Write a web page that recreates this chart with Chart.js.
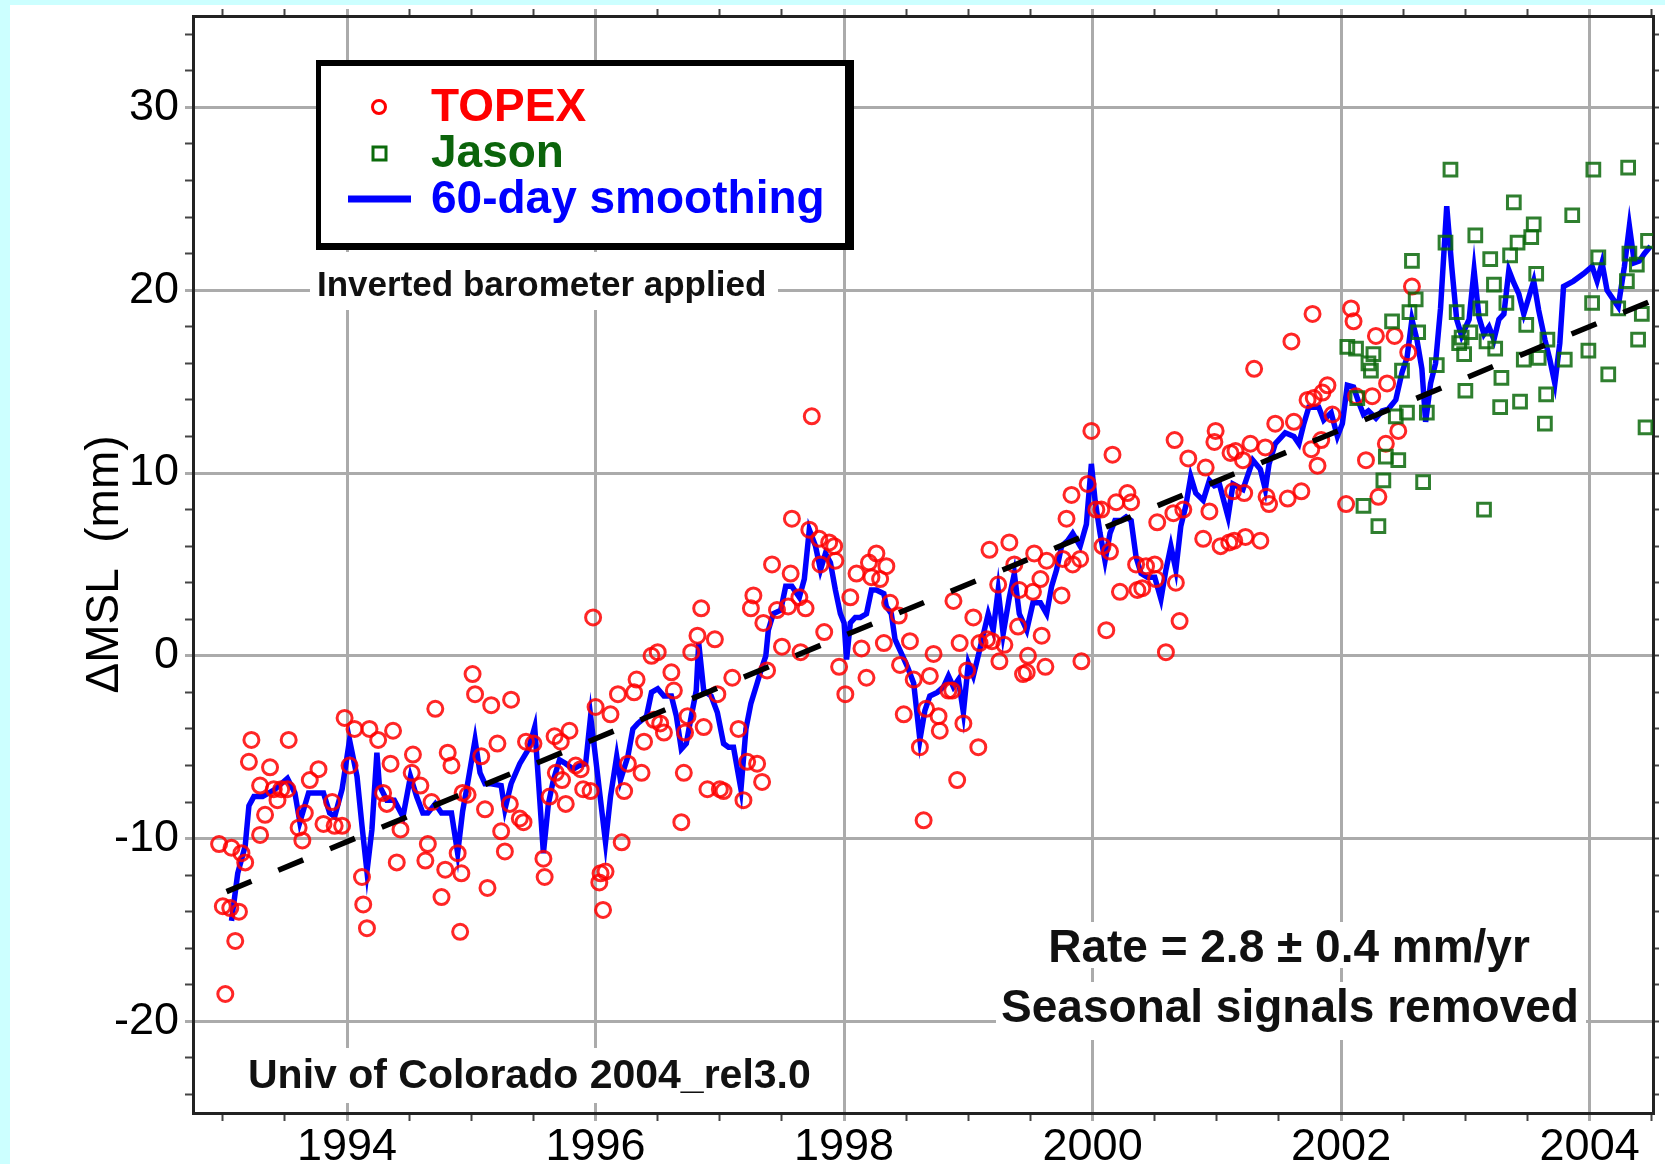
<!DOCTYPE html>
<html>
<head>
<meta charset="utf-8">
<title>Mean sea level change, TOPEX and Jason</title>
<script src="https://cdn.jsdelivr.net/npm/chart.js@4.4.1/dist/chart.umd.min.js"></script>
<style>
  html, body { margin: 0; padding: 0; background: #ccffff; }
  #wrap { width: 1665px; height: 1164px; position: relative; }
</style>
</head>
<body>
<div id="wrap"><canvas id="msl"></canvas></div>
<script>
// TOPEX cycle averages (decimal year, mm)
const topexYear = [
  1992.97, 1993.00, 1993.02, 1993.06, 1993.07, 1993.10, 1993.13, 1993.15, 1993.18, 1993.21,
  1993.23, 1993.30, 1993.30, 1993.34, 1993.38, 1993.41, 1993.44, 1993.47, 1993.52, 1993.53,
  1993.61, 1993.64, 1993.66, 1993.70, 1993.77, 1993.81, 1993.88, 1993.90, 1993.96, 1993.98,
  1994.02, 1994.06, 1994.12, 1994.13, 1994.16, 1994.18, 1994.25, 1994.29, 1994.32, 1994.35,
  1994.37, 1994.40, 1994.43, 1994.52, 1994.53, 1994.59, 1994.63, 1994.65, 1994.68, 1994.71,
  1994.76, 1994.79, 1994.81, 1994.84, 1994.89, 1994.91, 1994.92, 1994.93, 1994.97, 1995.01,
  1995.03, 1995.08, 1995.11, 1995.13, 1995.16, 1995.21, 1995.24, 1995.27, 1995.31, 1995.32,
  1995.39, 1995.42, 1995.44, 1995.50, 1995.58, 1995.59, 1995.63, 1995.67, 1995.68, 1995.72,
  1995.73, 1995.76, 1995.79, 1995.84, 1995.88, 1995.90, 1995.96, 1995.98, 1996.00, 1996.03,
  1996.04, 1996.06, 1996.08, 1996.12, 1996.18, 1996.21, 1996.23, 1996.26, 1996.31, 1996.33,
  1996.37, 1996.39, 1996.45, 1996.47, 1996.50, 1996.52, 1996.55, 1996.61, 1996.63, 1996.69,
  1996.71, 1996.72, 1996.74, 1996.77, 1996.82, 1996.85, 1996.87, 1996.90, 1996.96, 1996.98,
  1997.00, 1997.03, 1997.10, 1997.15, 1997.19, 1997.22, 1997.25, 1997.27, 1997.30, 1997.34,
  1997.35, 1997.38, 1997.42, 1997.46, 1997.50, 1997.55, 1997.57, 1997.58, 1997.64, 1997.65,
  1997.69, 1997.72, 1997.74, 1997.80, 1997.81, 1997.84, 1997.88, 1997.92, 1997.93, 1997.96,
  1998.01, 1998.05, 1998.10, 1998.14, 1998.18, 1998.20, 1998.22, 1998.26, 1998.29, 1998.32,
  1998.34, 1998.37, 1998.44, 1998.45, 1998.48, 1998.53, 1998.56, 1998.61, 1998.64, 1998.66,
  1998.69, 1998.72, 1998.76, 1998.77, 1998.84, 1998.87, 1998.88, 1998.91, 1998.93, 1998.96,
  1998.99, 1999.04, 1999.08, 1999.09, 1999.15, 1999.17, 1999.19, 1999.24, 1999.25, 1999.29,
  1999.33, 1999.37, 1999.40, 1999.41, 1999.44, 1999.47, 1999.48, 1999.52, 1999.53, 1999.58,
  1999.59, 1999.62, 1999.63, 1999.75, 1999.76, 1999.79, 1999.83, 1999.84, 1999.90, 1999.91,
  1999.96, 1999.99, 2000.03, 2000.07, 2000.08, 2000.11, 2000.14, 2000.16, 2000.19, 2000.22,
  2000.28, 2000.31, 2000.35, 2000.36, 2000.40, 2000.43, 2000.50, 2000.51, 2000.52, 2000.59,
  2000.65, 2000.66, 2000.67, 2000.70, 2000.73, 2000.77, 2000.89, 2000.91, 2000.94, 2000.98,
  2000.99, 2001.03, 2001.10, 2001.11, 2001.13, 2001.14, 2001.15, 2001.21, 2001.22, 2001.23,
  2001.27, 2001.30, 2001.35, 2001.39, 2001.40, 2001.42, 2001.47, 2001.57, 2001.60, 2001.62,
  2001.68, 2001.73, 2001.76, 2001.77, 2001.78, 2001.81, 2001.84, 2001.85, 2001.89, 2001.93,
  2002.04, 2002.08, 2002.10, 2002.12, 2002.20, 2002.25, 2002.28, 2002.30, 2002.36, 2002.37,
  2002.43, 2002.46, 2002.54, 2002.57
];
const topexMsl = [
  -10.3, -13.7, -18.5, -13.8, -10.5, -15.6, -14.0, -10.8, -11.3, -5.8,
  -4.6, -7.1, -9.8, -8.7, -6.1, -7.3, -7.9, -7.3, -7.3, -4.6,
  -9.4, -10.1, -8.6, -6.8, -6.2, -9.2, -8.0, -9.3, -9.3, -3.4,
  -6.0, -4.0, -12.1, -13.6, -14.9, -4.0, -4.6, -7.5, -8.1, -5.9,
  -4.1, -11.3, -9.5, -6.4, -5.4, -7.1, -11.2, -10.3, -8.0, -2.9,
  -13.2, -11.7, -5.3, -6.0, -10.8, -15.1, -11.9, -7.5, -7.6, -1.0,
  -2.1, -5.5, -8.4, -12.7, -2.7, -4.8, -9.6, -10.7, -8.1, -2.4,
  -8.9, -9.1, -4.7, -4.8, -11.1, -12.1, -7.7, -4.4, -6.4, -4.7,
  -6.8, -8.1, -4.1, -6.0, -6.2, -7.3, -7.4, 2.1, -2.8, -12.4,
  -11.9, -13.9, -11.8, -3.2, -2.1, -10.2, -7.4, -5.9, -2.0, -1.3,
  -6.4, -4.7, 0.0, -3.5, 0.2, -3.7, -4.2, -0.9, -1.9, -9.1,
  -6.4, -4.2, -3.3, 0.2, 1.1, 2.6, -3.9, -7.3, 0.9, -2.1,
  -7.3, -7.4, -1.2, -4.0, -7.9, -5.8, 2.6, 3.3, -5.9, -6.9,
  1.8, -0.8, 5.0, 2.5, 0.5, 2.7, 4.5, 7.5, 3.2, 0.2,
  2.6, 6.9, 13.1, 6.4, 5.0, 1.3, 6.2, 6.0, 5.2, -0.6,
  -2.1, 3.2, 4.5, 0.4, -1.2, 5.1, 4.3, 5.6, 4.2, 0.7,
  4.9, 2.9, 2.2, -0.5, -3.2, 0.8, -1.3, -5.0, -9.0, -2.9,
  -1.1, 0.1, -3.3, -4.1, -1.9, -1.9, 3.0, -6.8, 0.7, -3.7,
  -0.8, 2.1, -5.0, 0.7, 0.9, 5.8, 0.8, 3.9, -0.3, 0.6,
  6.2, 5.0, 1.6, 3.6, -1.0, -0.9, 0.0, 3.5, 5.6, 4.2,
  1.1, -0.6, 5.2, 3.3, 5.3, 7.5, 8.8, 5.0, 5.3, -0.3,
  9.4, 12.3, 8.0, 8.0, 6.0, 1.4, 5.7, 11.0, 8.4, 3.5,
  8.9, 8.4, 5.0, 3.6, 3.7, 4.9, 5.0, 4.2, 7.3, 0.2,
  7.8, 11.8, 4.0, 1.9, 8.0, 10.8, 6.4, 10.3, 7.9, 11.7,
  12.3, 6.0, 6.2, 11.1, 9.0, 6.3, 11.2, 10.7, 8.9, 6.5,
  11.6, 15.7, 6.3, 11.4, 8.7, 8.3, 12.7, 8.6, 17.2, 12.8,
  9.0, 14.0, 11.3, 18.7, 14.1, 10.4, 11.8, 14.4, 14.8, 13.2,
  8.3, 19.0, 18.3, 14.2, 10.7, 14.2, 17.5, 8.7, 11.6, 14.9,
  17.5, 12.3, 16.6, 20.2
];

// Jason-1 cycle averages
const jasonYear = [
  2002.05, 2002.12, 2002.13, 2002.18, 2002.22, 2002.24, 2002.26, 2002.30, 2002.34, 2002.36,
  2002.41, 2002.44, 2002.46, 2002.49, 2002.53, 2002.55, 2002.57, 2002.60, 2002.62, 2002.66,
  2002.69, 2002.77, 2002.84, 2002.88, 2002.93, 2002.95, 2002.97, 2002.99, 2003.00, 2003.04,
  2003.08, 2003.12, 2003.15, 2003.17, 2003.20, 2003.23, 2003.24, 2003.28, 2003.29, 2003.33,
  2003.36, 2003.39, 2003.42, 2003.44, 2003.47, 2003.49, 2003.53, 2003.55, 2003.57, 2003.59,
  2003.64, 2003.65, 2003.66, 2003.80, 2003.86, 2003.99, 2004.02, 2004.03, 2004.07, 2004.15,
  2004.23, 2004.30, 2004.31, 2004.32, 2004.38, 2004.39, 2004.42, 2004.45, 2004.47
];
const jasonMsl = [
  16.9, 16.8, 14.1, 8.2, 16.0, 15.6, 16.5, 7.1, 9.6, 10.9,
  18.3, 13.1, 10.7, 15.6, 13.3, 18.8, 21.6, 19.5, 17.7, 9.5,
  13.3, 15.9, 22.6, 26.6, 18.8, 17.1, 17.4, 16.5, 14.5, 17.7,
  23.0, 19.0, 8.0, 17.2, 21.7, 20.3, 16.8, 13.6, 15.2, 19.3,
  21.9, 24.8, 22.6, 13.9, 16.2, 18.1, 22.9, 23.6, 20.9, 16.3,
  12.7, 14.3, 17.3, 16.2, 24.1, 16.7, 19.3, 26.6, 21.8, 15.4,
  19.0, 20.5, 26.7, 22.0, 21.4, 17.3, 18.7, 12.5, 22.7
];

// 60-day smoothed series
const smoothYear = [
  1993.07, 1993.12, 1993.18, 1993.21, 1993.25, 1993.32, 1993.42, 1993.52, 1993.58, 1993.62,
  1993.69, 1993.74, 1993.81, 1993.86, 1993.90, 1993.96, 1994.02, 1994.08, 1994.12, 1994.16,
  1994.20, 1994.24, 1994.26, 1994.32, 1994.38, 1994.45, 1994.51, 1994.56, 1994.61, 1994.65,
  1994.71, 1994.76, 1994.84, 1994.89, 1994.93, 1994.97, 1995.03, 1995.07, 1995.11, 1995.16,
  1995.24, 1995.27, 1995.32, 1995.39, 1995.46, 1995.51, 1995.54, 1995.58, 1995.62, 1995.66,
  1995.71, 1995.76, 1995.82, 1995.87, 1995.92, 1995.96, 1995.99, 1996.04, 1996.08, 1996.12,
  1996.17, 1996.20, 1996.26, 1996.30, 1996.34, 1996.41, 1996.45, 1996.50, 1996.55, 1996.61,
  1996.65, 1996.69, 1996.73, 1996.77, 1996.81, 1996.83, 1996.87, 1996.93, 1996.98, 1997.03,
  1997.07, 1997.11, 1997.17, 1997.21, 1997.25, 1997.30, 1997.34, 1997.37, 1997.39, 1997.43,
  1997.49, 1997.53, 1997.58, 1997.64, 1997.68, 1997.72, 1997.77, 1997.81, 1997.85, 1997.89,
  1997.93, 1997.97, 1998.00, 1998.02, 1998.05, 1998.09, 1998.13, 1998.18, 1998.22, 1998.26,
  1998.32, 1998.34, 1998.38, 1998.41, 1998.45, 1998.51, 1998.56, 1998.61, 1998.65, 1998.69,
  1998.75, 1998.80, 1998.84, 1998.88, 1998.92, 1998.96, 1999.00, 1999.04, 1999.09, 1999.16,
  1999.20, 1999.24, 1999.28, 1999.33, 1999.37, 1999.41, 1999.47, 1999.52, 1999.58, 1999.63,
  1999.67, 1999.71, 1999.75, 1999.80, 1999.84, 1999.90, 1999.95, 1999.99, 2000.02, 2000.06,
  2000.10, 2000.14, 2000.18, 2000.23, 2000.27, 2000.31, 2000.35, 2000.39, 2000.44, 2000.50,
  2000.55, 2000.59, 2000.63, 2000.67, 2000.71, 2000.75, 2000.79, 2000.83, 2000.89, 2000.94,
  2000.98, 2001.02, 2001.09, 2001.13, 2001.21, 2001.29, 2001.35, 2001.39, 2001.42, 2001.47,
  2001.55, 2001.62, 2001.66, 2001.70, 2001.74, 2001.82, 2001.86, 2001.92, 2001.97, 2002.01,
  2002.05, 2002.10, 2002.14, 2002.18, 2002.22, 2002.28, 2002.33, 2002.38, 2002.44, 2002.49,
  2002.53, 2002.57, 2002.61, 2002.65, 2002.68, 2002.72, 2002.76, 2002.80, 2002.85, 2002.89,
  2002.93, 2002.97, 2003.03, 2003.07, 2003.11, 2003.15, 2003.19, 2003.23, 2003.27, 2003.31,
  2003.35, 2003.39, 2003.43, 2003.47, 2003.51, 2003.55, 2003.59, 2003.64, 2003.68, 2003.72,
  2003.76, 2003.79, 2003.87, 2003.95, 2004.02, 2004.06, 2004.10, 2004.14, 2004.19, 2004.23,
  2004.28, 2004.32, 2004.36, 2004.40, 2004.44, 2004.49
];
const smoothMsl = [
  -14.5, -11.9, -10.4, -8.2, -7.7, -7.7, -7.3, -6.7, -7.5, -9.1,
  -7.5, -7.5, -7.5, -8.6, -8.8, -7.3, -4.6, -6.6, -9.3, -11.8,
  -9.5, -5.3, -7.1, -7.9, -7.9, -8.8, -6.6, -7.7, -8.6, -8.6,
  -8.1, -8.6, -8.6, -10.8, -8.5, -7.0, -4.6, -6.4, -7.0, -7.0,
  -7.1, -8.4, -7.0, -5.9, -5.1, -3.9, -6.8, -10.8, -8.1, -6.8,
  -5.7, -5.9, -6.2, -6.0, -5.9, -3.3, -5.0, -7.9, -10.2, -7.7,
  -5.5, -6.8, -5.5, -4.0, -3.7, -3.3, -2.0, -1.8, -2.2, -2.2,
  -3.3, -5.1, -4.8, -3.3, -1.9, 0.7, -1.9, -2.2, -3.1, -4.8,
  -5.0, -5.0, -7.3, -4.0, -2.6, -1.5, -0.6, 0.0, 1.4, 2.3,
  2.5, 3.8, 3.8, 3.2, 4.2, 6.9, 6.0, 4.7, 5.6, 5.1,
  3.6, 2.3, 1.8, -0.2, 1.8, 2.1, 2.1, 2.3, 3.6, 3.6,
  3.4, 2.7, 2.3, 0.9, 0.3, -0.6, -1.5, -4.6, -3.0, -2.2,
  -2.0, -1.7, -1.1, -1.7, -1.3, -3.1, -0.4, -1.1, 0.3, 2.3,
  1.4, 3.6, 1.2, 3.2, 4.5, 2.3, 1.4, 2.9, 2.9, 2.3,
  3.8, 4.7, 6.0, 6.3, 6.7, 6.0, 7.2, 10.5, 8.5, 6.7,
  5.2, 6.7, 7.4, 7.4, 7.6, 7.4, 5.4, 4.5, 4.3, 4.3,
  3.1, 4.7, 6.0, 4.7, 7.1, 8.2, 9.8, 8.9, 8.5, 9.6,
  9.3, 9.4, 7.6, 9.4, 9.1, 10.7, 10.2, 9.1, 10.5, 11.6,
  12.2, 12.0, 11.6, 12.7, 13.6, 13.6, 12.9, 13.3, 12.0, 12.7,
  14.8, 14.7, 13.9, 13.2, 13.4, 13.0, 13.4, 13.5, 14.0, 15.5,
  16.3, 18.4, 17.3, 15.7, 12.8, 14.9, 16.0, 19.0, 24.6, 21.3,
  18.4, 17.5, 18.4, 21.1, 18.5, 17.6, 18.0, 17.3, 18.4, 18.7,
  21.1, 20.4, 19.8, 18.7, 19.6, 20.5, 18.9, 17.3, 16.2, 14.9,
  17.1, 20.2, 20.5, 20.9, 21.3, 20.5, 21.5, 20.0, 19.5, 19.1,
  21.3, 23.5, 21.5, 21.6, 22.0, 22.4
];

// least-squares trend, 2.8 mm/yr
const trendYear = [1993.03, 2004.51];
const trendMsl = [-12.9, 19.45];

const xTickLabels = ['1994', '1996', '1998', '2000', '2002', '2004'];
const yTickLabels = ['-20', '-10', '0', '10', '20', '30'];

const FONT = '"Liberation Sans", Arial, Helvetica, sans-serif';
const gridGrey = '#ababab';
const frame = '#222222';

Chart.defaults.font.family = FONT;
Chart.defaults.color = '#000';

const pts = (xs, ys) => xs.map((x, i) => ({x: x, y: ys[i]}));

const isMajor = (labels, tick) => tick && labels.includes(String(tick.value));
const xMajor = c => isMajor(xTickLabels, c.tick);
const yMajor = c => isMajor(yTickLabels, c.tick);

// keep the plot frame fixed: no extra room for overhanging labels
const fixBox = (w, h) => s => {
  if (w !== null) s.width = w;
  if (h !== null) s.height = h;
  s.paddingTop = 0;
  s.paddingBottom = 0;
  s.paddingLeft = 0;
  s.paddingRight = 0;
};

// page background: cyan margin with white panel
const backdrop = {
  id: 'backdrop',
  beforeDraw(chart) {
    const {ctx, width, height} = chart;
    ctx.save();
    ctx.fillStyle = '#ccffff';
    ctx.fillRect(0, 0, width, height);
    ctx.fillStyle = '#ffffff';
    ctx.fillRect(10, 5, width - 10, height - 5);
    ctx.restore();
  }
};

// text notes on a white ground, under the data but over the grid
const notes = {
  id: 'notes',
  beforeDatasetsDraw(chart) {
    const {ctx} = chart;
    ctx.save();
    ctx.fillStyle = '#ffffff';
    ctx.fillRect(310, 252, 468, 58);
    ctx.fillRect(240, 1048, 578, 55);
    ctx.fillRect(1040, 922, 500, 46);
    ctx.fillRect(996, 982, 590, 58);

    ctx.fillStyle = '#111';
    ctx.textBaseline = 'alphabetic';
    ctx.textAlign = 'left';
    ctx.font = 'bold 35px ' + FONT;
    ctx.fillText('Inverted barometer applied', 317, 296);
    ctx.font = 'bold 41px ' + FONT;
    ctx.fillText('Univ of Colorado 2004_rel3.0', 248, 1088);
    ctx.textAlign = 'center';
    ctx.font = 'bold 46px ' + FONT;
    ctx.fillText('Rate = 2.8 \u00b1 0.4 mm/yr', 1289, 962);
    ctx.fillText('Seasonal signals removed', 1290, 1022);
    ctx.restore();
  }
};

// boxed legend with drop edge
const keyBox = {
  id: 'keyBox',
  afterDraw(chart) {
    const {ctx} = chart;
    ctx.save();
    ctx.fillStyle = '#000';
    ctx.fillRect(316, 60, 538, 190);
    ctx.fillStyle = '#fff';
    ctx.fillRect(321, 66, 524, 177);

    ctx.lineWidth = 3;
    ctx.strokeStyle = '#ff0000';
    ctx.beginPath();
    ctx.arc(379, 107, 6.5, 0, Math.PI * 2);
    ctx.stroke();

    ctx.lineWidth = 3;
    ctx.strokeStyle = '#0b6b0b';
    ctx.strokeRect(373, 147, 13, 13);

    ctx.lineWidth = 7;
    ctx.strokeStyle = '#0000ff';
    ctx.beginPath();
    ctx.moveTo(348, 199);
    ctx.lineTo(411, 199);
    ctx.stroke();

    ctx.font = 'bold 46px ' + FONT;
    ctx.textAlign = 'left';
    ctx.textBaseline = 'alphabetic';
    ctx.fillStyle = '#ff0000';
    ctx.fillText('TOPEX', 431, 121);
    ctx.fillStyle = '#0b640b';
    ctx.fillText('Jason', 431, 167);
    ctx.fillStyle = '#0000ff';
    ctx.fillText('60-day smoothing', 431, 213);
    ctx.restore();
  }
};

const blankLabel = () => '';

// y range is nudged off the whole-step span so the ticks land on even mm
const yMin = -25.01;
const yMax = 35;

new Chart(document.getElementById('msl'), {
  type: 'scatter',
  data: {
    datasets: [
      {
        label: 'Trend',
        type: 'line',
        data: pts(trendYear, trendMsl),
        borderColor: '#000',
        borderWidth: 5.5,
        borderDash: [27, 29],
        pointRadius: 0,
        fill: false,
        order: 0
      },
      {
        label: 'Jason',
        data: pts(jasonYear, jasonMsl),
        pointStyle: 'rect',
        pointRadius: 9,
        borderWidth: 3,
        borderColor: 'rgba(10, 105, 10, 0.85)',
        backgroundColor: 'rgba(0, 0, 0, 0)',
        order: 1
      },
      {
        label: 'TOPEX',
        data: pts(topexYear, topexMsl),
        pointStyle: 'circle',
        pointRadius: 7.5,
        borderWidth: 3,
        borderColor: 'rgba(255, 0, 0, 0.85)',
        backgroundColor: 'rgba(0, 0, 0, 0)',
        order: 2
      },
      {
        label: '60-day smoothing',
        type: 'line',
        data: pts(smoothYear, smoothMsl),
        borderColor: '#0000ff',
        borderWidth: 5.5,
        pointRadius: 0,
        tension: 0,
        fill: false,
        order: 3
      }
    ]
  },
  options: {
    responsive: true,
    maintainAspectRatio: false,
    animation: false,
    events: [],
    layout: { padding: 0 },
    plugins: {
      legend: { display: false },
      tooltip: { enabled: false }
    },
    scales: {
      x: {
        type: 'linear',
        position: 'bottom',
        min: 1992.76,
        max: 2004.51,
        ticks: {
          stepSize: 0.5,
          includeBounds: false,
          autoSkip: false,
          maxRotation: 0,
          padding: 0,
          color: '#000',
          font: { size: 45 },
          callback: v => xTickLabels.includes(String(v)) ? String(v) : ''
        },
        grid: {
          color: c => xMajor(c) ? gridGrey : 'rgba(0,0,0,0)',
          lineWidth: 3,
          tickLength: 8,
          tickColor: c => xMajor(c) ? gridGrey : '#444',
          tickWidth: c => xMajor(c) ? 3 : 2
        },
        border: { color: frame, width: 3 },
        afterFit: fixBox(null, 51)
      },
      xTop: {
        type: 'linear',
        position: 'top',
        min: 1992.76,
        max: 2004.51,
        ticks: {
          stepSize: 0.5,
          includeBounds: false,
          autoSkip: false,
          maxRotation: 0,
          font: { size: 10 },
          callback: blankLabel
        },
        grid: {
          drawOnChartArea: false,
          tickLength: 7,
          tickColor: c => xMajor(c) ? gridGrey : '#444',
          tickWidth: c => xMajor(c) ? 3 : 2
        },
        border: { color: frame, width: 3 },
        afterFit: fixBox(null, 16)
      },
      y: {
        type: 'linear',
        position: 'left',
        min: yMin,
        max: yMax,
        ticks: {
          stepSize: 2,
          includeBounds: false,
          autoSkip: false,
          padding: 6,
          color: '#000',
          font: { size: 45 },
          callback: v => yTickLabels.includes(String(v)) ? String(v) : ''
        },
        grid: {
          color: c => yMajor(c) ? gridGrey : 'rgba(0,0,0,0)',
          lineWidth: 3,
          tickLength: 8,
          tickColor: c => yMajor(c) ? gridGrey : '#444',
          tickWidth: c => yMajor(c) ? 3 : 2
        },
        border: { color: frame, width: 3 },
        title: {
          display: true,
          text: '\u0394MSL  (mm)',
          color: '#000',
          font: { size: 46 },
          padding: { top: 78, bottom: 0 }
        },
        afterFit: fixBox(193, null)
      },
      yRight: {
        type: 'linear',
        position: 'right',
        min: yMin,
        max: yMax,
        ticks: {
          stepSize: 2,
          includeBounds: false,
          autoSkip: false,
          font: { size: 10 },
          callback: blankLabel
        },
        grid: {
          drawOnChartArea: false,
          tickLength: 6,
          tickColor: '#444',
          tickWidth: 2
        },
        border: { color: frame, width: 3 },
        afterFit: fixBox(6, null)
      }
    }
  },
  plugins: [backdrop, notes, keyBox]
});
</script>
</body>
</html>
